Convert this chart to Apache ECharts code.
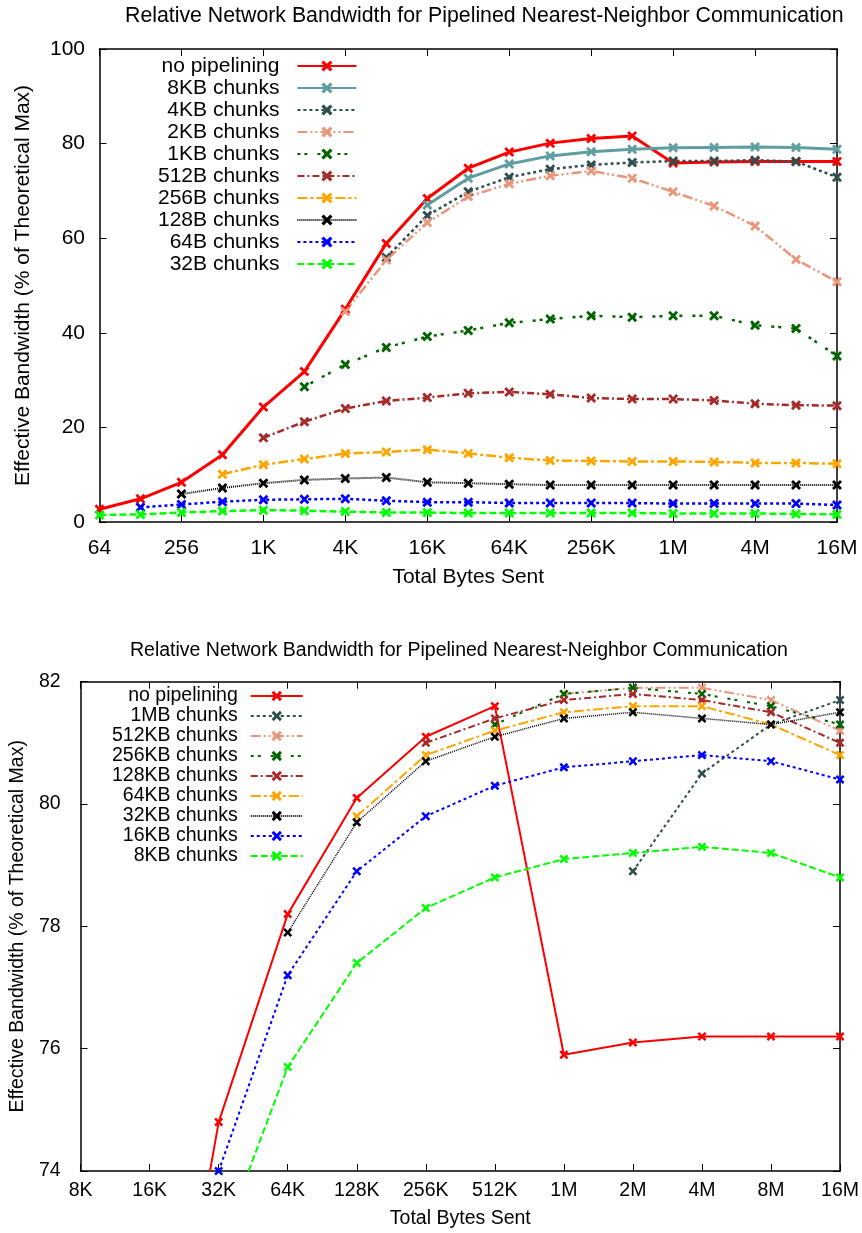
<!DOCTYPE html>
<html>
<head>
<meta charset="utf-8">
<script src="https://cdn.jsdelivr.net/npm/echarts@6/dist/echarts.min.js"></script>
<style>html,body{margin:0;padding:0;background:#fff;}#main{width:862px;height:1233px;}</style>
</head>
<body>
<div id="main"></div>
<script>
// ---- data ----
const bytes = [64,128,256,512,1024,2048,4096,8192,16384,32768,65536,131072,262144,524288,1048576,2097152,4194304,8388608,16777216];
const sizeLabels = ['64','128','256','512','1K','2K','4K','8K','16K','32K','64K','128K','256K','512K','1M','2M','4M','8M','16M'];
const topTickLabels = ['64','256','1K','4K','16K','64K','256K','1M','4M','16M'];
const bottomTickLabels = ['8K','16K','32K','64K','128K','256K','512K','1M','2M','4M','8M','16M'];
const N = null;

const noPipelining = [2.7,4.9,8.4,14.2,24.3,31.8,45.0,58.9,68.4,74.8,78.2,80.1,81.1,81.6,75.9,76.1,76.2,76.2,76.2];
const chunks8KB   = [N,N,N,N,N,N,N,N,67.0,72.7,75.7,77.4,78.3,78.8,79.1,79.2,79.3,79.2,78.8];
const chunks4KB   = [N,N,N,N,N,N,N,55.9,64.8,69.8,72.9,74.6,75.5,76.0,76.3,76.3,76.5,76.2,72.9];
const chunks2KB   = [N,N,N,N,N,N,44.5,55.4,63.3,68.8,71.5,73.2,74.2,72.7,69.8,66.8,62.6,55.5,50.8];
const chunks1KB   = [N,N,N,N,N,28.6,33.3,36.9,39.2,40.5,42.1,42.9,43.6,43.3,43.6,43.6,41.6,40.9,35.1];
const chunks512B  = [N,N,N,N,17.8,21.2,24.0,25.6,26.3,27.2,27.5,27.0,26.2,26.0,26.0,25.7,25.0,24.7,24.6];
const chunks256B  = [N,N,N,10.1,12.1,13.3,14.5,14.8,15.3,14.5,13.6,13.0,12.9,12.8,12.8,12.7,12.5,12.5,12.3];
const chunks128B  = [N,N,5.9,7.2,8.2,8.9,9.2,9.4,8.4,8.2,8.0,7.8,7.8,7.8,7.8,7.8,7.8,7.8,7.8];
const chunks64B   = [N,3.1,3.7,4.3,4.7,4.8,4.9,4.5,4.2,4.2,4.0,4.0,4.0,4.0,3.9,3.9,3.9,3.9,3.6];
const chunks32B   = [1.5,1.6,2.0,2.3,2.5,2.4,2.2,2.0,2.0,1.9,1.9,1.9,1.9,1.9,1.8,1.8,1.8,1.7,1.6];

const chunks16KB  = [N,N,N,N,N,N,N,N,N,74.0,77.2,78.9,79.8,80.3,80.6,80.7,80.8,80.7,80.4];
const chunks32KB  = [N,N,N,N,N,N,N,N,N,N,77.9,79.7,80.7,81.1,81.4,81.5,81.4,81.3,81.5];
const chunks64KB  = [N,N,N,N,N,N,N,N,N,N,N,79.8,80.8,81.2,81.5,81.6,81.6,81.3,80.8];
const chunks128KB = [N,N,N,N,N,N,N,N,N,N,N,N,81.0,81.4,81.7,81.8,81.7,81.5,81.0];
const chunks256KB = [N,N,N,N,N,N,N,N,N,N,N,N,N,81.3,81.8,81.9,81.8,81.6,81.3];
const chunks512KB = [N,N,N,N,N,N,N,N,N,N,N,N,N,N,81.8,81.9,81.9,81.7,81.2];
const chunks1MB   = [N,N,N,N,N,N,N,N,N,N,N,N,N,N,N,78.9,80.5,81.3,81.7];

const titleText = 'Relative Network Bandwidth for Pipelined Nearest-Neighbor Communication';
const xName = 'Total Bytes Sent';
const yName = 'Effective Bandwidth (% of Theoretical Max)';

// ---- styles ----
const F = '"Liberation Sans", Arial, Helvetica, sans-serif';
const X = 'path://M0,2L2,0L5,3L8,0L10,2L7,5L10,8L8,10L5,7L2,10L0,8L3,5Z';
const STY = {
  red:    {color:'#ff0000', dash:'solid'},
  teal:   {color:'#5f9ea0', dash:'solid'},
  slate:  {color:'#2f4f4f', dash:[3,3]},
  salmon: {color:'#e9967a', dash:[10,3,2,3,2,3]},
  dgreen: {color:'#006400', dash:[3,4,3,10]},
  brown:  {color:'#a52a2a', dash:[7,3,2,3]},
  orange: {color:'#ffa500', dash:[10,3,3,3]},
  black:  {color:'#000000', dash:[1,1]},
  blue:   {color:'#0000ff', dash:[3,3]},
  green:  {color:'#00ff00', dash:[7,3]}
};

function pts(arr){
  const out=[];
  arr.forEach((v,i)=>{ if(v!==null) out.push([Math.log2(bytes[i]), v]); });
  return out;
}
function mk(name, arr, sty, g, lw, ss){
  return {
    name: name, type:'line', data: pts(arr),
    xAxisIndex: g*2, yAxisIndex: g*2,
    symbol: X, symbolSize: ss, clip: true,
    lineStyle: {color: sty.color, width: lw, type: sty.dash},
    itemStyle: {color: sty.color},
    emphasis: {disabled:true}, animation:false, z: 2
  };
}

const topSeries = [
  mk('no pipelining', noPipelining, STY.red, 0, 3, 10),
  mk('8KB chunks', chunks8KB, STY.teal, 0, 3, 10),
  mk('4KB chunks', chunks4KB, STY.slate, 0, 2.5, 10),
  mk('2KB chunks', chunks2KB, STY.salmon, 0, 2.5, 10),
  mk('1KB chunks', chunks1KB, STY.dgreen, 0, 2.5, 10),
  mk('512B chunks', chunks512B, STY.brown, 0, 2.5, 10),
  mk('256B chunks', chunks256B, STY.orange, 0, 2.5, 10),
  mk('128B chunks', chunks128B, STY.black, 0, 2, 10),
  mk('64B chunks', chunks64B, STY.blue, 0, 2.5, 10),
  mk('32B chunks', chunks32B, STY.green, 0, 2.5, 10)
];
const ZW = '\u200b';
const botSeries = [
  mk('no pipelining'+ZW, noPipelining, STY.red, 1, 2, 9),
  mk('1MB chunks', chunks1MB, STY.slate, 1, 2, 9),
  mk('512KB chunks', chunks512KB, STY.salmon, 1, 2, 9),
  mk('256KB chunks', chunks256KB, STY.dgreen, 1, 2, 9),
  mk('128KB chunks', chunks128KB, STY.brown, 1, 2, 9),
  mk('64KB chunks', chunks64KB, STY.orange, 1, 2, 9),
  mk('32KB chunks', chunks32KB, STY.black, 1, 1.5, 9),
  mk('16KB chunks', chunks16KB, STY.blue, 1, 2, 9),
  mk('8KB chunks'+ZW, chunks8KB, STY.green, 1, 2, 9)
];

function xAx(g, pos, min, max, interval, labels, fs, margin, show, nameGap){
  return {
    type:'value', gridIndex:g, position:pos, min:min, max:max, interval:interval,
    name: show ? xName : '', nameLocation:'middle', nameGap:nameGap,
    nameTextStyle:{fontSize:fs, fontFamily:F, color:'#000'},
    axisLine:{show:true, onZero:false, lineStyle:{color:'#000', width:1.5}},
    axisTick:{show:true, inside:true, length:7, lineStyle:{color:'#000', width:1}},
    axisLabel:{show:show, margin:margin, fontSize:fs, fontFamily:F, color:'#000',
      showMinLabel:true, showMaxLabel:true,
      formatter: v => labels[Math.round((v-min)/interval)] || ''},
    splitLine:{show:false}
  };
}
function yAx(g, pos, min, max, interval, fs, margin, show, nameGap){
  return {
    type:'value', gridIndex:g, position:pos, min:min, max:max, interval:interval,
    name: show ? yName : '', nameLocation:'middle', nameGap:nameGap, nameRotate:90,
    nameTextStyle:{fontSize:fs, fontFamily:F, color:'#000'},
    axisLine:{show:true, onZero:false, lineStyle:{color:'#000', width:1.5}},
    axisTick:{show:true, inside:true, length:7, lineStyle:{color:'#000', width:1}},
    axisLabel:{show:show, margin:margin, fontSize:fs, fontFamily:F, color:'#000',
      showMinLabel:true, showMaxLabel:true},
    splitLine:{show:false}
  };
}

const option = {
  backgroundColor:'#fff',
  animation:false,
  title:[
    {text:titleText, left:125, top:6, padding:0,
     textStyle:{fontSize:21.3, fontWeight:'normal', fontFamily:F, color:'#000'}},
    {text:titleText, left:130, top:641, padding:0,
     textStyle:{fontSize:19.5, fontWeight:'normal', fontFamily:F, color:'#000'}}
  ],
  legend:[
    {data: topSeries.map(s=>s.name), orient:'vertical', align:'right',
     left:158, top:55, padding:0, itemWidth:59, itemHeight:14, itemGap:0,
     selectedMode:false,
     textStyle:{fontSize:21, fontFamily:F, color:'#000', lineHeight:22, padding:[0,13,0,0]}},
    {data: botSeries.map(s=>s.name), orient:'vertical', align:'right',
     left:112, top:686, padding:0, itemWidth:52, itemHeight:13, itemGap:0,
     selectedMode:false,
     textStyle:{fontSize:19.5, fontFamily:F, color:'#000', lineHeight:19.5, padding:[0,8,0,0]}}
  ],
  grid:[
    {left:99.5, top:49, width:737.5, height:473, containLabel:false},
    {left:76.7, top:681.7, width:765.6, height:489.3, containLabel:false}
  ],
  xAxis:[
    xAx(0,'bottom',6,24,2,topTickLabels,21,16,true,45),
    xAx(0,'top',6,24,2,topTickLabels,21,15,false,0),
    xAx(1,'bottom',13,24,1,bottomTickLabels,19.5,10,true,38),
    xAx(1,'top',13,24,1,bottomTickLabels,19.5,10,false,0)
  ],
  yAxis:[
    yAx(0,'left',0,100,20,21,14.5,true,66),
    yAx(0,'right',0,100,20,21,14.5,false,0),
    yAx(1,'left',74,82,2,19.5,20,true,45),
    yAx(1,'right',74,82,2,19.5,20,false,0)
  ],
  series: topSeries.concat(botSeries)
};

const chart = echarts.init(document.getElementById('main'), null, {renderer:'canvas'});
chart.setOption(option);
</script>
</body>
</html>
